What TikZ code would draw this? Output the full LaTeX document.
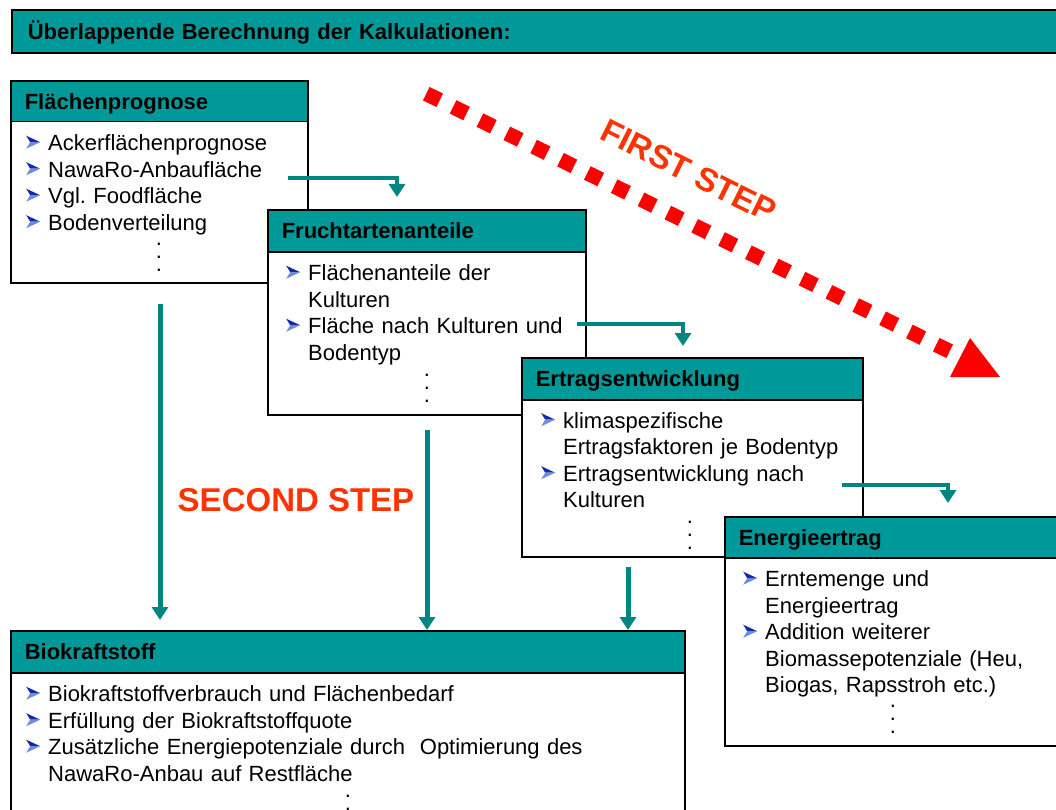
\documentclass[tikz,border=0pt]{standalone}
\usepackage{fontspec}
\setmainfont{Liberation Sans}
\usetikzlibrary{arrows.meta}
\frenchspacing
\definecolor{teal1}{RGB}{0,153,153}
\definecolor{tealc}{RGB}{0,133,128}
\definecolor{stepred}{RGB}{255,51,0}
\definecolor{bulblue}{RGB}{20,40,170}
\definecolor{bulblue2}{RGB}{110,140,220}
\newcommand\bul{\tikz[x=1pt,y=1pt,baseline=0pt]{\fill[bulblue] (0,15) -- (14,8.5) -- (4,8.5) -- cycle; \fill[bulblue2] (0,2) -- (14,8.5) -- (4,8.5) -- cycle;}}
\newcommand\itm[1]{\noindent\hangindent=22pt\hangafter=1\rule{0pt}{16pt}\makebox[22pt][l]{\bul}#1\par}
\begin{document}
\begin{tikzpicture}[x=1pt,y=-1pt,
  hdr/.style={draw=black, line width=1.6pt, fill=teal1, anchor=north west, inner xsep=14pt, inner ysep=0pt,
    font=\bfseries\fontsize{22}{26}\selectfont, text height=16pt, text depth=0pt, align=left},
  bodybox/.style={draw=black, line width=1.5pt, fill=white, anchor=north west, inner sep=0pt},
  lst/.style={anchor=north west, inner sep=0pt, align=left, font=\fontsize{22}{26.5}\selectfont},
  dotsn/.style={inner sep=0pt, align=center, font=\fontsize{22}{13}\selectfont},
  conn/.style={draw=tealc, line width=4pt, -{Triangle[width=16pt,length=13pt]}},
  vconn/.style={draw=tealc, line width=5pt, -{Triangle[width=16pt,length=13pt]}},
  steptext/.style={text=stepred, font=\bfseries\fontsize{33}{36}\selectfont, inner sep=0pt}
]
\useasboundingbox (0,0) rectangle (1056,810);
\clip (0,0) rectangle (1056,810);

% title bar
\node[hdr, inner xsep=16pt, minimum width=1060pt, text width=1028pt, minimum height=43pt] (title) at (11,9) {Überlappende Berechnung der Kalkulationen:};

% Flächenprognose
\node[hdr, minimum width=297pt, text width=269pt, minimum height=41pt] (fh) at (10,80) {Flächenprognose};
\node[bodybox, minimum width=297pt, minimum height=161pt] (fb) at (10,121) {};
\node[lst, text width=275pt] (fl) at (26,134.5) {\itm{Ackerflächenprognose}\itm{NawaRo-Anbaufläche}\itm{Vgl. Foodfläche}\itm{Bodenverteilung}};
\node[dotsn] (fd) at (159,257) {.\\.\\.};

% Fruchtartenanteile
\node[hdr, minimum width=318pt, text width=290pt, minimum height=42pt] (rh) at (267,209) {Fruchtartenanteile};
\node[bodybox, minimum width=318pt, minimum height=163pt] (rb) at (267,251) {};
\node[lst, text width=295pt] (rl) at (286,264.5) {\itm{Flächenanteile der\newline Kulturen}\itm{Fläche nach Kulturen und\newline Bodentyp}};
\node[dotsn] (rd) at (427,388) {.\\.\\.};

% Ertragsentwicklung
\node[hdr, minimum width=341pt, text width=313pt, minimum height=42pt] (eh) at (521,357) {Ertragsentwicklung};
\node[bodybox, minimum width=341pt, minimum height=157pt] (eb) at (521,399) {};
\node[lst, text width=318pt] (el) at (541,412) {\itm{klimaspezifische\newline Ertragsfaktoren je Bodentyp}\itm{Ertragsentwicklung nach\newline Kulturen}};
\node[dotsn] (ed) at (690,535) {.\\.\\.};

% Energieertrag
\node[hdr, minimum width=345pt, text width=317pt, minimum height=41pt] (nh) at (724,516) {Energieertrag};
\node[bodybox, minimum width=345pt, minimum height=188pt] (nb) at (724,557) {};
\node[lst, text width=310pt] (nl) at (743,570.5) {\itm{Erntemenge und\newline Energieertrag}\itm{Addition weiterer\newline Biomassepotenziale (Heu,\newline Biogas, Rapsstroh etc.)}};
\node[dotsn] (nd) at (893,719) {.\\.\\.};

% Biokraftstoff
\node[hdr, minimum width=674pt, text width=646pt, minimum height=42pt] (bh) at (10,630) {Biokraftstoff};
\node[bodybox, minimum width=674pt, minimum height=160pt] (bb) at (10,672) {};
\node[lst, text width=650pt] (bl) at (26,685.5) {\itm{Biokraftstoffverbrauch und Flächenbedarf}\itm{Erfüllung der Biokraftstoffquote}\itm{Zusätzliche Energiepotenziale durch\ \ Optimierung des\newline NawaRo-Anbau auf Restfläche}};
\node[dotsn] (bd) at (348,809) {.\\.\\.};

% first-step connectors
\coordinate (c1s) at (288,178); \coordinate (c1e) at (397,197);
\coordinate (c2s) at (577,324); \coordinate (c2e) at (683,346);
\coordinate (c3s) at (842,485); \coordinate (c3e) at (948,503);
\draw[conn] (c1s) -| (c1e);
\draw[conn] (c2s) -| (c2e);
\draw[conn] (c3s) -| (c3e);

% second-step connectors
\coordinate (v1s) at (160,304); \coordinate (v1e) at (160,620);
\coordinate (v2s) at (427,430);
\coordinate (v3s) at (628,567);
\draw[vconn] (v1s) -- (v1e);
\draw[vconn] (v2s) -- (v2s |- bh.north);
\draw[vconn] (v3s) -- (v3s |- bh.north);

% red dotted arrow
\foreach \i in {0,...,19}{
  \fill[red, shift={({433+\i*26.84},{97+\i*13.21})}, rotate=-26.2] (-7.5,-7.5) rectangle (7.5,7.5);
}
\fill[red] (950,377) -- (1000,377) -- (970,338) -- cycle;

\node[steptext, rotate=-26.5] (fs) at (689,171) {FIRST STEP};
\node[steptext] (ss) at (296,500) {SECOND STEP};
\end{tikzpicture}
\end{document}
